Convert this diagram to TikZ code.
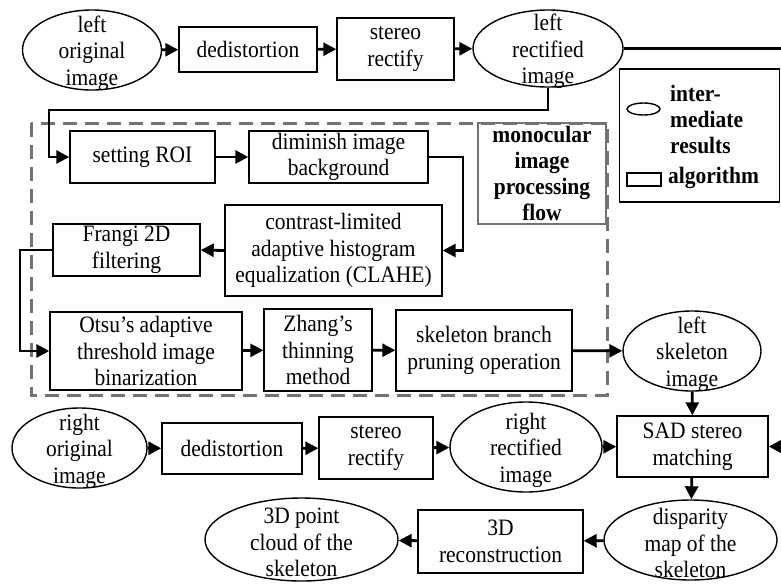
\documentclass[tikz,border=0pt]{standalone}
\usepackage{fontspec}
\setmainfont{Liberation Serif}[FakeStretch=0.915]
\usetikzlibrary{shapes.geometric,arrows.meta,calc}
\begin{document}
\begin{tikzpicture}[x=1pt,y=-1pt,
 txt/.style={font=\fontsize{23.5}{26.5}\selectfont, align=center},
 eltxt/.style={txt, yshift=-3pt},
 bx/.style={draw, line width=1.4pt, rectangle, inner sep=0pt, txt},
 el/.style={draw, line width=1.4pt, ellipse, inner sep=0pt},
 conn/.style={line width=2.8pt, -{Triangle[length=13pt,width=13pt]}},
 ln/.style={line width=2.8pt},
 grp/.style={draw=black!55, line width=3pt, dash pattern=on 14pt off 8pt},
 grplbl/.style={draw=black!55, line width=2.8pt, inner sep=0pt, font=\fontsize{23.5}{26}\selectfont\bfseries, align=center},
 lgd/.style={draw, line width=1.6pt, inner sep=0pt},
]
\useasboundingbox (0,0) rectangle (781,584);

% group frame
\draw[grp] (31,123) rectangle (607,395);
\node[grplbl, minimum width=128pt, minimum height=101pt] (mono) at (542,173.5) {monocular\\image\\processing\\flow};

% legend
\node[lgd, minimum width=160pt, minimum height=133pt] (leg) at (699.5,135.5) {};
\node[el, minimum width=33pt, minimum height=12pt] (lege) at (643.5,109) {};
\node[anchor=west, inner sep=0pt, font=\fontsize{23.5}{26}\selectfont\bfseries, align=left] (legt1) at (670,119) {inter-\\mediate\\results};
\node[draw, line width=1.4pt, inner sep=0pt, minimum width=34pt, minimum height=13pt] (legr) at (644,179.5) {};
\node[anchor=west, inner sep=0pt, font=\fontsize{23.5}{26}\selectfont\bfseries] (legt2) at (668,178) {algorithm};

% top row
\node[el, minimum width=139pt, minimum height=80pt, label={[eltxt]center:{left\\original\\image}}] (lo) at (92,50) {};
\node[bx, minimum width=138pt, minimum height=45pt] (d1) at (248,49.5) {dedistortion};
\node[bx, minimum width=117pt, minimum height=62pt] (s1) at (395.5,49) {stereo\\rectify};
\node[el, minimum width=150pt, minimum height=77pt, label={[eltxt]center:{left\\rectified\\image}}] (lr) at (548,48.5) {};

% monocular processing
\node[bx, minimum width=145pt, minimum height=52pt] (roi) at (142.5,157) {setting ROI};
\node[bx, minimum width=179pt, minimum height=52pt] (dim) at (338.5,157) {diminish image\\background};
\node[bx, minimum width=217pt, minimum height=91pt] (cl) at (333.5,250.5) {contrast-limited\\adaptive histogram\\equalization (CLAHE)};
\node[bx, minimum width=147pt, minimum height=52pt] (fr) at (126.5,250) {Frangi 2D\\filtering};
\node[bx, minimum width=192pt, minimum height=78pt] (ot) at (146,351) {Otsu’s adaptive\\threshold image\\binarization};
\node[bx, minimum width=108pt, minimum height=82pt] (zh) at (318,350) {Zhang’s\\thinning\\method};
\node[bx, minimum width=176pt, minimum height=81pt] (pr) at (484,350.5) {skeleton branch\\pruning operation};
\node[el, minimum width=138pt, minimum height=80pt, label={[eltxt]center:{left\\skeleton\\image}}] (ls) at (692,351) {};

% right row
\node[el, minimum width=135pt, minimum height=80pt, label={[eltxt]center:{right\\original\\image}}] (ro) at (79.5,448) {};
\node[bx, minimum width=140pt, minimum height=51pt] (d2) at (232,448.5) {dedistortion};
\node[bx, minimum width=114pt, minimum height=62pt] (s2) at (376,448) {stereo\\rectify};
\node[el, minimum width=152pt, minimum height=90pt, label={[eltxt]center:{right\\rectified\\image}}] (rr) at (526,447) {};
\node[bx, minimum width=151pt, minimum height=61pt] (sad) at (692.5,446.5) {SAD stereo\\matching};

% bottom row
\node[el, minimum width=173pt, minimum height=80pt, label={[eltxt]center:{disparity\\map of the\\skeleton}}] (dm) at (690.5,540) {};
\node[bx, minimum width=165pt, minimum height=63pt] (rec) at (500.5,541.5) {3D\\reconstruction};
\node[el, minimum width=193pt, minimum height=83pt, label={[eltxt]center:{3D point\\cloud of the\\skeleton}}] (pc) at (301.5,539.5) {};

% helper coordinates
\coordinate (eR1) at (781,48.5);
\coordinate (eR2) at (781,446.5);
\coordinate (k1) at (548,110);
\coordinate (k2) at (49,110);
\coordinate (k3) at (463,157);
\coordinate (k4) at (20,250);

% connectors
\draw[conn] (lo) -- (d1);
\draw[conn] (d1) -- (s1);
\draw[conn] (s1) -- (lr);
\draw[ln] (lr.east) -- (eR1);
\draw[conn] (lr.south) -- (k1) -- (k2) |- (roi.west);
\draw[conn] (roi) -- (dim);
\draw[conn] (dim.east) -- (k3) |- (cl.east);
\draw[conn] (cl.west) -- (fr.east);
\draw[conn] (fr.west) -- (k4) |- (ot.west);
\draw[conn] (ot) -- (zh);
\draw[conn] (zh) -- (pr);
\draw[conn] (pr) -- (ls);
\draw[conn] (ls) -- (sad);
\draw[conn] (ro) -- (d2);
\draw[conn] (d2) -- (s2);
\draw[conn] (s2) -- (rr);
\draw[conn] (rr) -- (sad);
\draw[conn] (eR2) -- (sad.east);
\draw[conn] (sad) -- (dm);
\draw[conn] (dm) -- (rec);
\draw[conn] (rec) -- (pc);
\end{tikzpicture}
\end{document}
